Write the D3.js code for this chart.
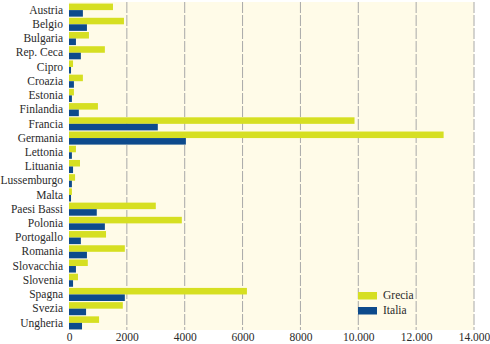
<!DOCTYPE html>
<html>
<head>
<meta charset="utf-8">
<script src="https://cdn.jsdelivr.net/npm/d3@7"></script>
<style>
  body{margin:0;background:#fff;}
  svg{display:block;font-family:"Liberation Serif","DejaVu Serif",serif;}
  .tick text{font-size:11.5px;fill:#2a2a2a;}
</style>
</head>
<body>
<script>
const countries=["Austria","Belgio","Bulgaria","Rep. Ceca","Cipro","Croazia","Estonia","Finlandia",
  "Francia","Germania","Lettonia","Lituania","Lussemburgo","Malta","Paesi Bassi","Polonia",
  "Portogallo","Romania","Slovacchia","Slovenia","Spagna","Svezia","Ungheria"];
// Grecia (yellow) and Italia (blue)
const grecia=[1520,1900,690,1240,140,480,170,1000,9870,12950,240,380,210,100,3000,3900,
  1280,1930,650,310,6150,1860,1040];
const italia=[480,620,240,410,70,170,100,340,3070,4040,100,140,100,70,960,1240,
  410,620,240,140,1930,590,450];
const xTicks=[0,2000,4000,6000,8000,10000,12000,14000];
const xTickLabels=["0","2000","4000","6000","8000","10.000","12.000","14.000"];
const seriesNames=["Grecia","Italia"];
const seriesColors=["#d6df22","#0d4a8c"];

const w=490,h=344;
const margin={top:3,right:16,bottom:14,left:69};
const FONT='"Liberation Serif","DejaVu Serif",serif';

const svg=d3.select("body").append("svg").attr("width",w).attr("height",h);

const x=d3.scaleLinear().domain([0,14000]).range([margin.left,w-margin.right]);
const y=d3.scaleBand().domain(countries).range([margin.top,h-margin.bottom]).paddingInner(0.08).paddingOuter(0.04);
const sub=d3.scaleBand().domain(seriesNames).range([0,y.bandwidth()]);

// background
svg.append("rect")
  .attr("x",x(0)).attr("y",margin.top-1)
  .attr("width",x(14000)-x(0)).attr("height",h-margin.bottom-margin.top+1)
  .attr("fill","#fffbe8");

// grid
svg.append("g").selectAll("line")
  .data(xTicks.filter(d=>d>0))
  .enter().append("line")
  .attr("x1",d=>x(d)).attr("x2",d=>x(d))
  .attr("y1",margin.top-1).attr("y2",h-margin.bottom)
  .attr("stroke","#a8a8a8").attr("stroke-width",1)
  .attr("stroke-dasharray","11,2");

// bars
const rows=svg.append("g").selectAll("g")
  .data(countries)
  .enter().append("g")
  .attr("transform",d=>`translate(0,${y(d)})`);

rows.append("rect")
  .attr("x",x(0)).attr("y",sub("Grecia"))
  .attr("width",(d,i)=>x(grecia[i])-x(0)).attr("height",sub.bandwidth())
  .attr("fill",seriesColors[0]);
rows.append("rect")
  .attr("x",x(0)).attr("y",sub("Italia"))
  .attr("width",(d,i)=>x(italia[i])-x(0)).attr("height",sub.bandwidth())
  .attr("fill",seriesColors[1]);

// axes
const yAxis=d3.axisLeft(y).tickSize(0).tickPadding(6);
svg.append("g")
  .attr("transform",`translate(${x(0)},0)`)
  .call(yAxis)
  .attr("font-family",FONT)
  .call(g=>g.select(".domain").remove());

const xAxis=d3.axisBottom(x).tickValues(xTicks).tickSize(0).tickPadding(3)
  .tickFormat((d,i)=>xTickLabels[i]);
svg.append("g")
  .attr("transform",`translate(0,${h-margin.bottom})`)
  .call(xAxis)
  .attr("font-family",FONT)
  .call(g=>g.select(".domain").remove());

// legend
const legend=svg.append("g").attr("transform","translate(358,292)");
seriesNames.forEach((s,i)=>{
  legend.append("rect")
    .attr("x",0).attr("y",i*15)
    .attr("width",19).attr("height",7.5)
    .attr("fill",seriesColors[i]);
  legend.append("text")
    .attr("x",25).attr("y",i*15+7)
    .style("font-size","11.5px")
    .attr("fill","#2a2a2a")
    .text(s);
});
</script>
</body>
</html>
